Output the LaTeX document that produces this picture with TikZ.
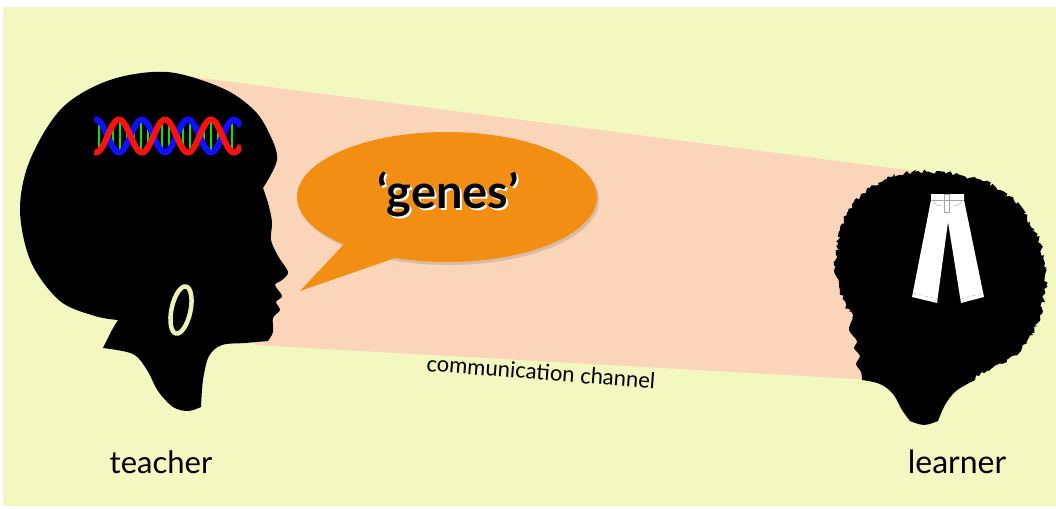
\documentclass[tikz,border=0pt]{standalone}
\usepackage{fontspec}
\setmainfont{Lato}
\usetikzlibrary{decorations.pathmorphing}
\definecolor{bgyellow}{HTML}{F2F8C0}
\definecolor{chanpink}{HTML}{FAD5BA}
\definecolor{bubblecol}{HTML}{F28E13}
\definecolor{ringcol}{HTML}{EEF2B6}
\definecolor{dnared}{HTML}{FF1010}
\definecolor{dnablue}{HTML}{1010FF}
\definecolor{dnagreen}{HTML}{10E010}
\tikzset{
  silhouette/.style={fill=black},
  label/.style={text=black, inner sep=0pt},
  strand/.style={line width=6pt, line cap=butt},
  rung/.style={line width=2.4pt, dnagreen},
  seam/.style={draw=gray!70, line width=0.4pt},
}
\begin{document}
\pgfmathsetseed{11}
\begin{tikzpicture}[x=1pt,y=-1pt]
\useasboundingbox (0,0) rectangle (1056,508);
\fill[white] (0,0) rectangle (1056,508);
\fill[bgyellow] (3,7) rectangle (1056,506);

% communication channel between the two heads
\coordinate (ctl) at (170,74);
\coordinate (ctr) at (945,175);
\coordinate (cbr) at (875,380);
\coordinate (cbl) at (255,345);
\fill[chanpink] (ctl) -- (ctr) -- (cbr) -- (cbl) -- cycle;

% teacher silhouette
\fill[silhouette]
  plot[smooth, tension=0.55] coordinates {(103,348) (112,330) (118,320)}
  -- plot[smooth, tension=0.55] coordinates {(118,320) (95,316) (60,301) (31,262) (20,210) (30,160) (62,108) (110,80) (167,72) (222,88) (254,110) (270,135) (277,160) (263,188)}
  -- plot[smooth, tension=0.5] coordinates {(263,188) (268,203) (272,222) (271,240) (278,256) (288,272) (282,280) (275,285) (282,296) (276,302) (280,310) (273,318) (273,332) (268,341)}
  -- plot[smooth, tension=0.55] coordinates {(268,341) (245,343) (222,345) (209,356) (203,380) (201,407)}
  -- plot[smooth, tension=0.55] coordinates {(201,407) (188,411) (173,407) (158,391) (147,370) (133,354) (103,348)}
  -- cycle;

% earring
\draw[ringcol, line width=4.5pt, rotate around={-12:(181,310)}]
  (181,310) ellipse [x radius=9.5pt, y radius=24pt];

% double helix: period 46pt, 360/46 degrees per pt
\begin{scope}
  \clip (94,116) rectangle (241,156);
  \foreach \xr in {99,106,...,238}
    \draw[rung] (\xr,{136-15*cos(7.826*(\xr-119))}) -- (\xr,{136+15*cos(7.826*(\xr-119))});
  \draw[strand, dnablue] plot[domain=94:241, samples=180, smooth]
    (\x,{136+16.5*cos(7.826*(\x-119))});
  \draw[strand, dnared] plot[domain=94:241, samples=180, smooth]
    (\x,{136-16.5*cos(7.826*(\x-119))});
\end{scope}

% learner silhouette: fuzzy hair
\fill[silhouette, decorate, decoration={random steps, segment length=2.5pt, amplitude=2.2pt}]
  plot[smooth cycle, tension=0.7] coordinates {(852,318) (840,290) (836,255) (848,212) (878,183) (912,172) (960,175) (1000,190) (1030,222) (1045,268) (1040,315) (1022,348) (992,368) (962,378) (900,372) (862,345)};
% learner face and neck
\fill[silhouette]
  plot[smooth, tension=0.5] coordinates {(880,290) (860,305) (853,318) (849,330) (857,341) (854,348) (860,356) (856,364) (861,372) (862,380)}
  -- plot[smooth, tension=0.6] coordinates {(862,380) (880,384) (893,394) (902,410) (910,421)}
  -- plot[smooth, tension=0.6] coordinates {(910,421) (924,425) (938,421)}
  -- plot[smooth, tension=0.6] coordinates {(938,421) (945,405) (956,391) (975,380)}
  -- (985,330) -- cycle;

% trousers
\fill[white] (931,194) -- (964,194) -- (964,200) -- (984,297) -- (961,303)
  -- (948,222) -- (937,303) -- (912,297) -- (931,200) -- cycle;
\draw[seam] (931,200) -- (964,200);
\draw[seam] (944,194) rectangle (949,212);
\draw[seam] (933,201) .. controls (937,206) .. (941,205);
\draw[seam] (962,201) .. controls (958,206) .. (954,205);
\draw[seam, dashed] (913,293) -- (937,299);
\draw[seam, dashed] (961,299) -- (983,293);

% speech bubble
\fill[black, opacity=0.12] (449,200) ellipse [x radius=150pt, y radius=65pt];
\fill[bubblecol] (345,243) -- (300,291) -- (395,258) -- cycle;
\fill[bubblecol] (447,197) ellipse [x radius=150pt, y radius=65pt];
\node[label, text=white, font=\bfseries\fontsize{47}{56}\selectfont] (genesshadow) at (450,196) {‘genes’};
\node[label, font=\bfseries\fontsize{47}{56}\selectfont] (genes) at (448,194) {‘genes’};

% labels
\node[label, font=\fontsize{22}{26}\selectfont, rotate=-4.5] (channel) at (541,372) {communication channel};
\node[label, font=\fontsize{31}{36}\selectfont, anchor=base] (teacher) at (161,473) {teacher};
\node[label, font=\fontsize{32}{36}\selectfont, anchor=base] (learner) at (957,473) {learner};
\end{tikzpicture}
\end{document}
